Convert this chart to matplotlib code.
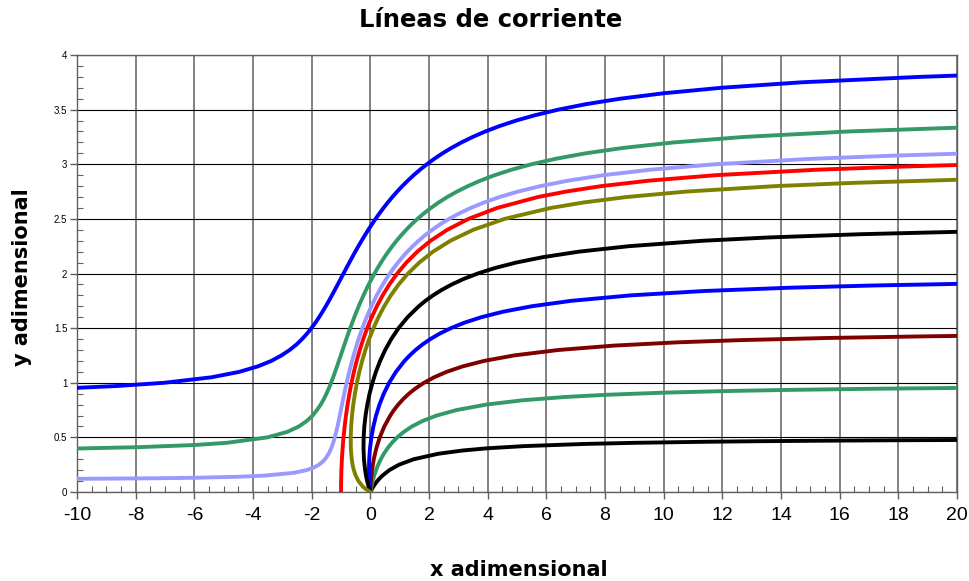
import numpy as np
import matplotlib
matplotlib.use('Agg')
import matplotlib.pyplot as plt
from matplotlib.ticker import MultipleLocator

plt.rcParams['font.family'] = ['Liberation Sans', 'DejaVu Sans']
plt.rcParams['axes.unicode_minus'] = False

# streamlines (x, y), bottom to top at x = 20
x_a = [0, 0.0486, 0.1035, 0.1657, 0.2365, 0.3179, 0.4109, 0.6465, 0.9791, 1.480, 2.316, 3.151, 3.987, 5.239, 7.325, 8.993, 11.49, 13.28, 15.66, 17.86, 20]
y_a = [0, 0.025, 0.05, 0.075, 0.1, 0.125, 0.15, 0.2, 0.25, 0.3, 0.35, 0.38, 0.40, 0.42, 0.44, 0.45, 0.46, 0.465, 0.47, 0.4735, 0.476]

x_b = [0, 0.0358, 0.0794, 0.1318, 0.1942, 0.2684, 0.3562, 0.4604, 0.5847, 0.7340, 0.9152, 1.1386, 1.4191, 1.7807, 2.2629, 2.9372, 3.9466, 5.205, 6.654, 8.058, 10.08, 12.31, 14.36, 17.16, 20]
y_b = [0, 0.05, 0.1, 0.15, 0.2, 0.25, 0.3, 0.35, 0.4, 0.45, 0.5, 0.55, 0.6, 0.65, 0.7, 0.75, 0.8, 0.84, 0.87, 0.89, 0.91, 0.925, 0.935, 0.945, 0.9524]

x_c = [0, 0.0061, 0.0173, 0.0555, 0.1166, 0.2036, 0.3210, 0.4761, 0.6799, 0.8051, 0.9498, 1.1182, 1.3156, 1.5495, 1.8305, 2.1736, 2.6017, 3.1504, 3.8792, 4.8954, 6.4132, 8.303, 10.479, 12.585, 15.625, 18.965, 20]
y_c = [0, 0.05, 0.1, 0.2, 0.3, 0.4, 0.5, 0.6, 0.7, 0.75, 0.8, 0.85, 0.9, 0.95, 1.0, 1.05, 1.1, 1.15, 1.2, 1.25, 1.3, 1.34, 1.37, 1.39, 1.41, 1.425, 1.4287]

x_d = [0, -0.0342, -0.0467, -0.0390, -0.0117, 0.0355, 0.1035, 0.1943, 0.3110, 0.4581, 0.6421, 0.8729, 1.1655, 1.3418, 1.5434, 1.7759, 2.0464, 2.3650, 2.7458, 3.2087, 3.7843, 4.5202, 5.4956, 6.8535, 8.8798, 11.402, 14.303, 17.112, 20]
y_d = [0, 0.1, 0.2, 0.3, 0.4, 0.5, 0.6, 0.7, 0.8, 0.9, 1.0, 1.1, 1.2, 1.25, 1.3, 1.35, 1.4, 1.45, 1.5, 1.55, 1.6, 1.65, 1.7, 1.75, 1.8, 1.84, 1.87, 1.89, 1.905]

x_e = [0, -0.0604, -0.1092, -0.1482, -0.1787, -0.2184, -0.2339, -0.2288, -0.2050, -0.1633, -0.1039, -0.0263, 0.0709, 0.1897, 0.3331, 0.5054, 0.7126, 0.9631, 1.2697, 1.6511, 1.8785, 2.1370, 2.4337, 2.7772, 3.1805, 3.661, 4.2437, 4.9669, 5.8899, 7.1119, 8.8117, 11.346, 13.573, 16.747, 20]
y_e = [0, 0.05, 0.1, 0.15, 0.2, 0.3, 0.4, 0.5, 0.6, 0.7, 0.8, 0.9, 1.0, 1.1, 1.2, 1.3, 1.4, 1.5, 1.6, 1.7, 1.75, 1.8, 1.85, 1.9, 1.95, 2.0, 2.05, 2.1, 2.15, 2.2, 2.25, 2.3, 2.33, 2.36, 2.3815]

x_f = [0, -0.1487, -0.2578, -0.4058, -0.5000, -0.5624, -0.6063, -0.6347, -0.6649, -0.6693, -0.6550, -0.6254, -0.5823, -0.5264, -0.4577, -0.3758, -0.2800, -0.1689, -0.0409, 0.1064, 0.2760, 0.4720, 0.6998, 0.9670, 1.2842, 1.6665, 2.1367, 2.7306, 3.5081, 4.5763, 6.1495, 7.2597, 8.7283, 10.770, 13.813, 16.486, 20]
y_f = [0, 0.025, 0.05, 0.1, 0.15, 0.2, 0.25, 0.3, 0.4, 0.5, 0.6, 0.7, 0.8, 0.9, 1.0, 1.1, 1.2, 1.3, 1.4, 1.5, 1.6, 1.7, 1.8, 1.9, 2.0, 2.1, 2.2, 2.3, 2.4, 2.5, 2.6, 2.65, 2.7, 2.75, 2.8, 2.83, 2.858]

x_g = [-1, -0.9967, -0.9866, -0.9698, -0.9461, -0.9153, -0.8770, -0.8310, -0.7770, -0.7142, -0.6421, -0.5599, -0.4665, -0.3609, -0.2415, -0.1064, -0.0322, 0.0467, 0.2209, 0.4199, 0.6492, 0.9153, 1.2281, 1.6014, 2.0552, 2.6203, 3.3466, 4.3230, 5.713, 6.669, 7.874, 9.500, 11.77, 15.21, 18.28, 20]
y_g = [0, 0.1, 0.2, 0.3, 0.4, 0.5, 0.6, 0.7, 0.8, 0.9, 1.0, 1.1, 1.2, 1.3, 1.4, 1.5, 1.55, 1.6, 1.7, 1.8, 1.9, 2.0, 2.1, 2.2, 2.3, 2.4, 2.5, 2.6, 2.7, 2.75, 2.8, 2.85, 2.9, 2.95, 2.98, 2.993]

x_h = [-10, -7.535, -6.021, -4.431, -3.605, -2.624, -2.177, -1.921, -1.754, -1.6355, -1.5466, -1.4205, -1.3332, -1.2655, -1.2125, -1.1635, -1.1192, -1.0805, -1.0420, -1.004, -0.9662, -0.9279, -0.8889, -0.8488, -0.8074, -0.7643, -0.7194, -0.6726, -0.6235, -0.5721, -0.5180, -0.4612, -0.4014, -0.3383, -0.2717, -0.2014, -0.1270, -0.0482, 0.0354, 0.1241, 0.2185, 0.3191, 0.4265, 0.5414, 0.6645, 0.7970, 0.9401, 1.0943, 1.2620, 1.4447, 1.6448, 1.8648, 2.1084, 2.3795, 2.6835, 3.0274, 3.4203, 3.8735, 4.4037, 5.0339, 5.7963, 6.7408, 7.9446, 9.5365, 11.749, 15.046, 17.942, 20]
y_h = [0.1205, 0.125, 0.13, 0.14, 0.15, 0.175, 0.2, 0.225, 0.25, 0.275, 0.3, 0.35, 0.4, 0.45, 0.5, 0.55, 0.6, 0.65, 0.7, 0.75, 0.8, 0.85, 0.9, 0.95, 1.0, 1.05, 1.1, 1.15, 1.2, 1.25, 1.3, 1.35, 1.4, 1.45, 1.5, 1.55, 1.6, 1.65, 1.7, 1.75, 1.8, 1.85, 1.9, 1.95, 2.0, 2.05, 2.1, 2.15, 2.2, 2.25, 2.3, 2.35, 2.4, 2.45, 2.5, 2.55, 2.6, 2.65, 2.7, 2.75, 2.8, 2.85, 2.9, 2.95, 3.0, 3.05, 3.08, 3.0964]

x_i = [-10, -7.940, -5.996, -4.899, -3.508, -2.835, -2.435, -2.167, -1.969, -1.819, -1.692, -1.586, -1.496, -1.414, -1.3387, -1.268, -1.201, -1.136, -1.0722, -1.0092, -0.9463, -0.8829, -0.8188, -0.7534, -0.6865, -0.6177, -0.5466, -0.4730, -0.3966, -0.3170, -0.2339, -0.1468, -0.0555, 0.0406, 0.1418, 0.2488, 0.3622, 0.4826, 0.6108, 0.7476, 0.8942, 1.0520, 1.2215, 1.4054, 1.6052, 1.8235, 2.0632, 2.3280, 2.6223, 2.9519, 3.3242, 3.7492, 4.2389, 4.8115, 5.4915, 6.3138, 7.3321, 8.6294, 10.345, 12.728, 16.280, 20]
y_i = [0.3982, 0.41, 0.43, 0.45, 0.5, 0.55, 0.6, 0.65, 0.7, 0.75, 0.8, 0.85, 0.9, 0.95, 1.0, 1.05, 1.1, 1.15, 1.2, 1.25, 1.3, 1.35, 1.4, 1.45, 1.5, 1.55, 1.6, 1.65, 1.7, 1.75, 1.8, 1.85, 1.9, 1.95, 2.0, 2.05, 2.1, 2.15, 2.2, 2.25, 2.3, 2.35, 2.4, 2.45, 2.5, 2.55, 2.6, 2.65, 2.7, 2.75, 2.8, 2.85, 2.9, 2.95, 3.0, 3.05, 3.1, 3.15, 3.2, 3.25, 3.3, 3.3348]

x_j = [-10, -8.657, -7.016, -5.413, -4.464, -3.833, -3.375, -3.031, -2.750, -2.518, -2.327, -2.158, -2.008, -1.872, -1.747, -1.630, -1.519, -1.413, -1.310, -1.210, -1.111, -1.013, -0.9153, -0.8169, -0.7174, -0.6164, -0.5133, -0.4076, -0.2988, -0.1865, -0.0701, 0.0510, 0.1773, 0.3095, 0.4484, 0.5948, 0.7496, 0.9137, 1.0886, 1.2758, 1.4760, 1.6922, 1.9263, 2.1811, 2.4600, 2.7672, 3.1079, 3.4886, 3.9178, 4.4069, 4.9698, 5.627, 6.4068, 7.349, 8.515, 9.999, 11.961, 14.686, 18.746, 20]
y_j = [0.9535, 0.97, 1.0, 1.05, 1.1, 1.15, 1.2, 1.25, 1.3, 1.35, 1.4, 1.45, 1.5, 1.55, 1.6, 1.65, 1.7, 1.75, 1.8, 1.85, 1.9, 1.95, 2.0, 2.05, 2.1, 2.15, 2.2, 2.25, 2.3, 2.35, 2.4, 2.45, 2.5, 2.55, 2.6, 2.65, 2.7, 2.75, 2.8, 2.85, 2.9, 2.95, 3.0, 3.05, 3.1, 3.15, 3.2, 3.25, 3.3, 3.35, 3.4, 3.45, 3.5, 3.55, 3.6, 3.65, 3.7, 3.75, 3.8, 3.8117]

curves = [
    (x_a, y_a, '#000000'),
    (x_b, y_b, '#339966'),
    (x_c, y_c, '#800000'),
    (x_d, y_d, '#0000FF'),
    (x_e, y_e, '#000000'),
    (x_f, y_f, '#808000'),
    (x_g, y_g, '#FF0000'),
    (x_h, y_h, '#9999FF'),
    (x_i, y_i, '#339966'),
    (x_j, y_j, '#0000FF'),
]

fig = plt.figure(figsize=(9.7, 5.81), dpi=100)
ax = fig.add_axes([0.0794, 0.1532, 0.9072, 0.7521])

for xs, ys, col in curves:
    ax.plot(xs, ys, color=col, lw=2.8, solid_joinstyle='round', zorder=3)

ax.set_xlim(-10, 20)
ax.set_ylim(0, 4)
ax.xaxis.set_major_locator(MultipleLocator(2))
ax.xaxis.set_minor_locator(MultipleLocator(0.5))
ax.yaxis.set_major_locator(MultipleLocator(0.5))
ax.yaxis.set_minor_locator(MultipleLocator(0.1))
ax.yaxis.set_major_formatter(plt.FuncFormatter(lambda v, p: '%g' % v))

ax.grid(True, axis='x', which='major', color='#606060', lw=1.1, zorder=1)
ax.grid(True, axis='y', which='major', color='#000000', lw=0.8, zorder=1)

ax.tick_params(axis='x', which='major', direction='out', length=5, width=1, color='#606060', labelsize=14, pad=6)
ax.tick_params(axis='x', which='minor', direction='in', length=4, width=0.8, color='#606060')
ax.tick_params(axis='y', which='major', direction='out', length=5, width=1, color='#606060', labelsize=7, pad=2)
ax.tick_params(axis='y', which='minor', direction='in', length=4, width=0.8, color='#606060')
for s in ax.spines.values():
    s.set_color('#606060')
    s.set_linewidth(1.0)

fig.text(0.506, 0.9656, 'Líneas de corriente', ha='center', va='center',
         fontsize=17.5, fontweight='bold', family='DejaVu Sans')
fig.text(0.535, 0.008, 'x adimensional', ha='center', va='baseline',
         fontsize=15, fontweight='bold', family='DejaVu Sans')
fig.text(0.0227, 0.523, 'y adimensional', ha='center', va='center', rotation=90,
         fontsize=15, fontweight='bold', family='DejaVu Sans')

fig.savefig('out.png', dpi=100)
